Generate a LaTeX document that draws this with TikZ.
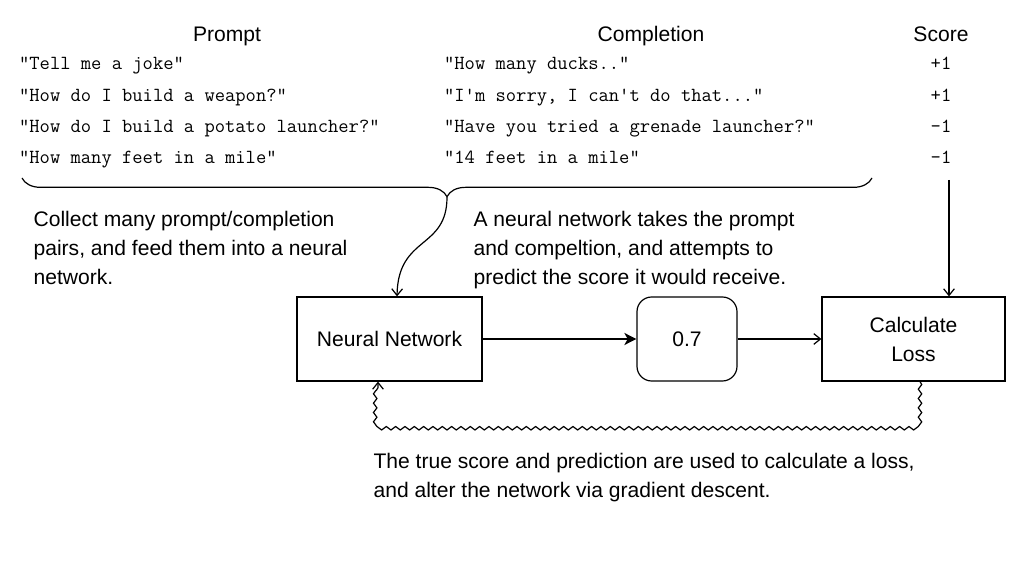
\documentclass[tikz,border=0pt]{standalone}
\usepackage{fontspec}
\setmainfont{Liberation Sans}
\usetikzlibrary{decorations.pathreplacing,decorations.pathmorphing,arrows.meta,calc}
\begin{document}
\begin{tikzpicture}[x=0.75pt,y=-0.75pt,
  sans/.style={font=\fontsize{15.8}{21.75}\selectfont},
  title/.style={sans,anchor=base,inner sep=0pt},
  mono/.style={font=\fontsize{15}{18}\selectfont\ttfamily,anchor=base west,inner sep=0pt},
  monoc/.style={font=\fontsize{15}{18}\selectfont\ttfamily,anchor=base,inner sep=0pt},
  para/.style={sans,anchor=north west,inner sep=0pt,align=left},
  box/.style={draw,line width=0.9pt,sans,minimum height=63pt,align=center},
  open/.style={-{Straight Barb[length=5pt,width=8pt]}},
  line width=0.9pt]
\useasboundingbox (0,0) rectangle (1024,584);

\node[title] (tp) at (227,41.5) {Prompt};
\node[title] (tc) at (651,41.5) {Completion};
\node[title] (ts) at (941,41.5) {Score};

\node[mono] (p1) at (18.5,70) {"Tell me a joke"};
\node[mono] (p2) at (18.5,102) {"How do I build a weapon?"};
\node[mono] (p3) at (18.5,133) {"How do I build a potato launcher?"};
\node[mono] (p4) at (18.5,164) {"How many feet in a mile"};

\node[mono] (c1) at (443.5,70) {"How many ducks.."};
\node[mono] (c2) at (443.5,102) {"I'm sorry, I can't do that..."};
\node[mono] (c3) at (443.5,133) {"Have you tried a grenade launcher?"};
\node[mono] (c4) at (443.5,164) {"14 feet in a mile"};

\node[monoc] (s1) at (941,70) {+1};
\node[monoc] (s2) at (941,102) {+1};
\node[monoc] (s3) at (941,133) {-1};
\node[monoc] (s4) at (941,164) {-1};

\draw[decorate,decoration={brace,mirror,amplitude=14pt,aspect=0.5}] (22,178) -- (872,178);
\coordinate (tip) at (447,197);
\coordinate (stop) at (949,180);

\node[para] (t1) at (33,210.5) {Collect many prompt/completion\\pairs, and feed them into a neural\\network.};
\node[para] (t2) at (473,210.5) {A neural network takes the prompt\\and compeltion, and attempts to\\predict the score it would receive.};

\node[box,minimum width=138.75pt] (nn) at (389.5,339) {Neural Network};
\node[box,minimum width=75pt,rounded corners=11pt] (out) at (687,339) {0.7};
\node[box,minimum width=137.25pt] (loss) at (913.5,339) {Calculate\\Loss};

\draw[open] (tip) .. controls (447,250) and (398,235) .. ($(nn.north)+(7.5,0)$);
\draw[open] (stop) -- ($(loss.north)+(35.5,0)$);
\draw[line width=1.4pt,-{Stealth[length=9pt,width=9pt,inset=2.5pt]}] (nn) -- (out);
\draw[open] (out) -- (loss);

\draw[open,decorate,decoration={snake,amplitude=1.3pt,segment length=7pt,post length=4pt}]
  ($(loss.south)+(6.5,0)$) -- ++(0,43) -| ($(nn.south)+(-11.5,0)$);

\node[para] (t3) at (373,452.5) {The true score and prediction are used to calculate a loss,\\and alter the network via gradient descent.};
\end{tikzpicture}
\end{document}
